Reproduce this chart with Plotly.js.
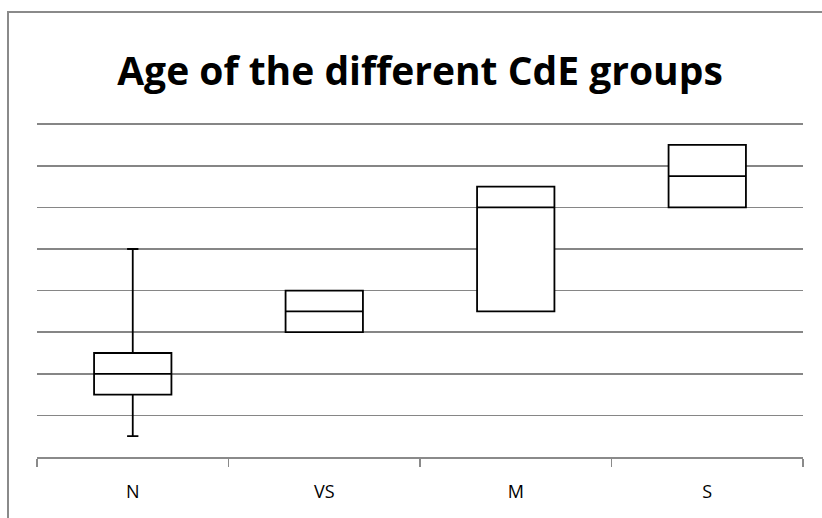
<!DOCTYPE html>
<html>
<head>
<meta charset="utf-8">
<script src="https://cdn.plot.ly/plotly-3.0.1.min.js"></script>
<style>
  html, body { margin: 0; padding: 0; background: #fff; }
  #wrap { position: relative; width: 822px; height: 518px; overflow: hidden; }
  #frame { position: absolute; left: 7px; top: 11px; width: 900px; height: 600px;
           border: 2px solid #8a8a8a; box-sizing: border-box; pointer-events: none; }
  #chart { position: absolute; left: 0; top: 0; width: 822px; height: 518px; }
</style>
</head>
<body>
<div id="wrap">
  <div id="frame"></div>
  <div id="chart"></div>
</div>
<script>
const categories = ["N", "VS", "M", "S"];
const lowerWhisker = [0.5, 3, 3.5, 6];
const q1Values = [1.5, 3, 3.5, 6];
const medianValues = [2, 3.5, 6, 6.75];
const q3Values = [2.5, 4, 6.5, 7.5];
const upperWhisker = [5, 4, 6.5, 7.5];

const trace = {
  type: "box",
  x: categories,
  q1: q1Values,
  median: medianValues,
  q3: q3Values,
  lowerfence: lowerWhisker,
  upperfence: upperWhisker,
  fillcolor: "#ffffff",
  line: { color: "#000000", width: 1.8 },
  width: 0.404,
  whiskerwidth: 0.146,
  boxpoints: false,
  hoverinfo: "skip",
  showlegend: false
};

const layout = {
  width: 822,
  height: 518,
  margin: { l: 37, r: 19, t: 120, b: 61 },
  paper_bgcolor: "rgba(0,0,0,0)",
  plot_bgcolor: "rgba(0,0,0,0)",
  title: {
    text: "<b>Age of the different CdE groups</b>",
    font: { family: "Open Sans, sans-serif", size: 39, color: "#000000" },
    xref: "paper",
    x: 0.5, xanchor: "center",
    y: 0.862, yanchor: "middle"
  },
  xaxis: {
    type: "category",
    range: [-0.5, 3.5],
    showgrid: false,
    showline: true,
    linecolor: "#8a8a8a",
    linewidth: 1.5,
    ticks: "outside",
    tickson: "boundaries",
    ticklen: 8,
    tickcolor: "#8a8a8a",
    tickwidth: 1.5,
    ticklabelstandoff: 18,
    tickfont: { family: "Open Sans, sans-serif", size: 18, color: "#000000" },
    zeroline: false,
    fixedrange: true
  },
  yaxis: {
    range: [0, 8.1],
    dtick: 1,
    tick0: 0,
    showgrid: true,
    gridcolor: "#868686",
    gridwidth: 1.6,
    showticklabels: false,
    showline: false,
    zeroline: false,
    ticks: "",
    fixedrange: true
  }
};

Plotly.newPlot("chart", [trace], layout, { staticPlot: true, displayModeBar: false });
</script>
</body>
</html>
